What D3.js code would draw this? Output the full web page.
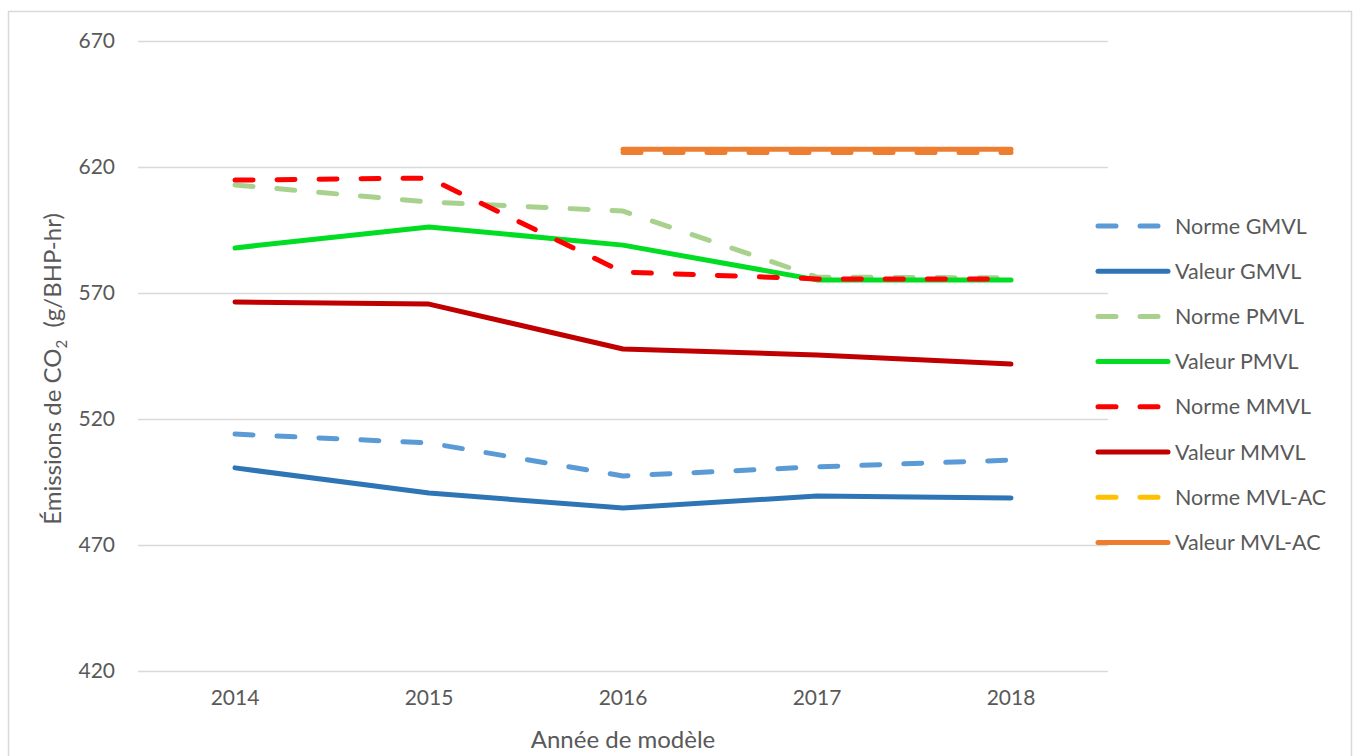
<!DOCTYPE html>
<html>
<head>
<meta charset="utf-8">
<script src="https://cdn.jsdelivr.net/npm/d3@7"></script>
<style>
  body { margin: 0; background: #fff; }
  svg { font-family: Lato, "Open Sans", sans-serif; }
</style>
</head>
<body>
<svg id="chart" width="1353" height="756"></svg>
<script>
// data
const years = ["2014", "2015", "2016", "2017", "2018"];
const yTicks = [420, 470, 520, 570, 620, 670];

const normeGMVL  = [514.0, 510.5, 497.4, 501.0, 503.7];
const valeurGMVL = [500.6, 490.6, 484.7, 489.4, 488.7];
const normePMVL  = [612.9, 606.1, 602.5, 576.3, 576.0];
const valeurPMVL = [587.9, 596.2, 589.0, 575.2, 575.2];
const normeMMVL  = [614.8, 615.6, 578.3, 575.6, 575.6];
const valeurMMVL = [566.4, 565.6, 547.8, 545.4, 541.8];
const normeMVLAC  = [null, null, 625.8, 625.8, 625.8];
const valeurMVLAC = [null, null, 627.0, 627.0, 627.0];

const series = [
  { name: "Norme GMVL",   values: normeGMVL,   color: "#5b9bd5", dashed: true },
  { name: "Valeur GMVL",  values: valeurGMVL,  color: "#2e75b6", dashed: false },
  { name: "Norme PMVL",   values: normePMVL,   color: "#a9d18e", dashed: true },
  { name: "Valeur PMVL",  values: valeurPMVL,  color: "#00dd22", dashed: false },
  { name: "Norme MMVL",   values: normeMMVL,   color: "#ff0000", dashed: true },
  { name: "Valeur MMVL",  values: valeurMMVL,  color: "#c00000", dashed: false },
  // in the plot the norm line shows in orange under the value line
  { name: "Norme MVL-AC", values: normeMVLAC,  color: "#ffc000", lineColor: "#ed7d31", dashed: true },
  { name: "Valeur MVL-AC",values: valeurMVLAC, color: "#ed7d31", dashed: false }
];

const svg = d3.select("#chart");
const plot = { left: 138, right: 1108, top: 41, bottom: 671 };

// outer border
svg.append("rect")
  .attr("x", 8.5).attr("y", 11.5)
  .attr("width", 1343).attr("height", 750)
  .attr("fill", "none").attr("stroke", "#d9d9d9").attr("stroke-width", 1.5);

const x = d3.scaleBand().domain(years).range([plot.left, plot.right]);
const y = d3.scaleLinear().domain([420, 670]).range([plot.bottom, plot.top]);

// gridlines
svg.append("g")
  .attr("transform", `translate(${plot.left},0)`)
  .call(d3.axisLeft(y).tickValues(yTicks).tickSize(-(plot.right - plot.left)).tickFormat(d => d).tickPadding(23))
  .attr("font-family", null)
  .call(g => g.select(".domain").remove())
  .call(g => g.selectAll(".tick line").attr("stroke", "#d9d9d9").attr("stroke-width", 1.5))
  .call(g => g.selectAll(".tick text").attr("fill", "#595959").attr("font-size", 21));

// x axis
svg.append("g")
  .attr("transform", `translate(0,${plot.bottom})`)
  .call(d3.axisBottom(x).tickSize(0).tickPadding(19))
  .attr("font-family", null)
  .call(g => g.select(".domain").remove())
  .call(g => g.selectAll(".tick text").attr("fill", "#595959").attr("font-size", 21));

// axis titles
svg.append("text")
  .attr("x", 623).attr("y", 748)
  .attr("text-anchor", "middle")
  .attr("fill", "#595959").attr("font-size", 24)
  .text("Année de modèle");

const yt = svg.append("text")
  .attr("transform", "translate(61,369) rotate(-90)")
  .attr("text-anchor", "middle")
  .attr("fill", "#595959").attr("font-size", 24);
yt.append("tspan").text("Émissions de CO");
yt.append("tspan").attr("font-size", 15).attr("dy", 6).text("2");
yt.append("tspan").attr("dy", -6).attr("xml:space", "preserve").text("  (g/BHP-hr)");

// lines
const line = d3.line()
  .defined(d => d != null)
  .x((d, i) => x(years[i]) + x.bandwidth() / 2)
  .y(d => y(d));

svg.append("g").selectAll("path")
  .data(series)
  .join("path")
  .attr("d", s => line(s.values))
  .attr("fill", "none")
  .attr("stroke", s => s.lineColor || s.color)
  .attr("stroke-width", 5)
  .attr("stroke-linecap", "round")
  .attr("stroke-linejoin", "round")
  .attr("stroke-dasharray", s => s.dashed ? "18,24" : null);

// legend
const legend = svg.append("g")
  .selectAll("g")
  .data(series)
  .join("g")
  .attr("transform", (s, i) => `translate(1098,${226 + i * 45.2})`);

legend.append("line")
  .attr("x1", 0).attr("x2", 70)
  .attr("stroke", s => s.color)
  .attr("stroke-width", 5)
  .attr("stroke-linecap", "round")
  .attr("stroke-dasharray", s => s.dashed ? "18,24" : null);

legend.append("text")
  .attr("x", 77).attr("dy", "0.35em")
  .attr("fill", "#595959").attr("font-size", 21.5)
  .text(s => s.name);
</script>
</body>
</html>
